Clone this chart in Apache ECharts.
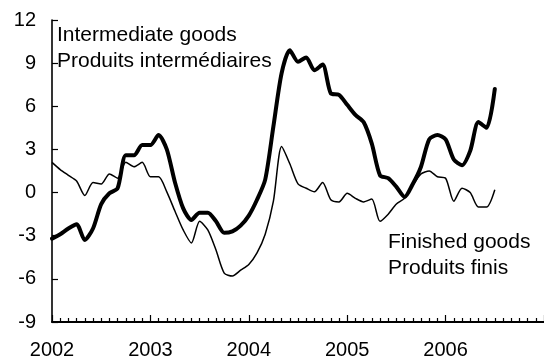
<!DOCTYPE html>
<html>
<head>
<meta charset="utf-8">
<script src="https://cdn.jsdelivr.net/npm/echarts@6/dist/echarts.min.js"></script>
<style>
  html, body { margin: 0; padding: 0; background: #ffffff; }
  #chart { width: 544px; height: 360px; }
</style>
</head>
<body>
<div id="chart"></div>
<script>
// Monthly year-on-year changes, starting January 2002
const startYear = 2002;
const yearTicks = ['2002', '2003', '2004', '2005', '2006'];
const yTicks = [-9, -6, -3, 0, 3, 6, 9, 12];

// Intermediate goods / Produits intermédiaires
const intermediateGoods = [
  -3.2, -2.9, -2.5, -2.2, -3.3, -2.5, -0.8, -0.05, 0.3, 2.6, 2.6, 3.3,
  3.3, 4.0, 3.0, 0.7, -1.1, -1.9, -1.4, -1.4, -2.0, -2.8, -2.7, -2.3,
  -1.6, -0.5, 0.9, 4.6, 8.3, 9.9, 9.1, 9.4, 8.5, 8.9, 6.9, 6.8,
  6.1, 5.4, 4.9, 3.4, 1.2, 1.0, 0.4, -0.3, 0.6, 1.8, 3.7, 4.0,
  3.7, 2.3, 1.9, 2.9, 4.9, 4.5, 7.2
];

// Finished goods / Produits finis
const finishedGoods = [
  2.1, 1.6, 1.2, 0.8, -0.2, 0.7, 0.6, 1.3, 1.0, 2.1, 1.8, 2.1,
  1.1, 1.1, 0.05, -1.3, -2.6, -3.5, -2.0, -2.6, -4.0, -5.6, -5.8, -5.4,
  -5.0, -4.2, -2.9, -0.6, 3.2, 2.0, 0.6, 0.3, 0.05, 0.7, -0.5, -0.65,
  -0.05, -0.4, -0.65, -0.45, -2.0, -1.5, -0.8, -0.4, 0.5, 1.3, 1.5, 1.1,
  1.0, -0.6, 0.3, 0.0, -1.0, -1.0, 0.2
];

const FONT = "'Liberation Sans', Arial, Helvetica, sans-serif";

function toSeries(values) {
  return values.map((v, i) => [startYear + i / 12, v]);
}

const chart = echarts.init(document.getElementById('chart'), null, { renderer: 'canvas' });

chart.setOption({
  backgroundColor: '#ffffff',
  animation: false,
  textStyle: { fontFamily: FONT, color: '#000' },
  grid: { left: 52, top: 20, bottom: 38, right: -8.3, containLabel: false },
  xAxis: {
    type: 'value',
    min: startYear,
    max: startYear + yearTicks.length,
    interval: 1,
    axisLine: { show: true, onZero: false, lineStyle: { color: '#000', width: 2 } },
    axisTick: { show: true, inside: true, length: 7, lineStyle: { color: '#000', width: 1.2 } },
    minorTick: { show: true, splitNumber: 12, length: 4, lineStyle: { color: '#000', width: 1.2 } },
    splitLine: { show: false },
    axisLabel: {
      color: '#000', fontSize: 20, fontFamily: FONT, margin: 18,
      showMaxLabel: false,
      formatter: (v) => {
        const idx = Math.round(v) - startYear;
        return yearTicks[idx] !== undefined ? yearTicks[idx] : '';
      }
    }
  },
  yAxis: {
    type: 'value',
    min: yTicks[0],
    max: yTicks[yTicks.length - 1],
    interval: 3,
    axisLine: { show: true, lineStyle: { color: '#000', width: 1.6 } },
    axisTick: { show: true, inside: true, length: 6, lineStyle: { color: '#000', width: 1.2 } },
    splitLine: { show: false },
    axisLabel: { color: '#000', fontSize: 20, fontFamily: FONT, margin: 16 }
  },
  series: [
    {
      name: 'Finished goods',
      type: 'line',
      data: toSeries(finishedGoods),
      showSymbol: false,
      smooth: 0.25,
      lineStyle: { color: '#000', width: 1.5 },
      z: 2
    },
    {
      name: 'Intermediate goods',
      type: 'line',
      data: toSeries(intermediateGoods),
      showSymbol: false,
      smooth: 0.25,
      lineStyle: { color: '#000', width: 4, cap: 'round', join: 'round' },
      z: 3
    }
  ],
  graphic: [
    {
      type: 'text', left: 57, top: 22,
      style: {
        text: 'Intermediate goods\nProduits intermédiaires',
        font: '21px ' + FONT, fill: '#000', lineHeight: 26
      }
    },
    {
      type: 'text', left: 388, top: 229,
      style: {
        text: 'Finished goods\nProduits finis',
        font: '21px ' + FONT, fill: '#000', lineHeight: 26
      }
    }
  ]
});
</script>
</body>
</html>
